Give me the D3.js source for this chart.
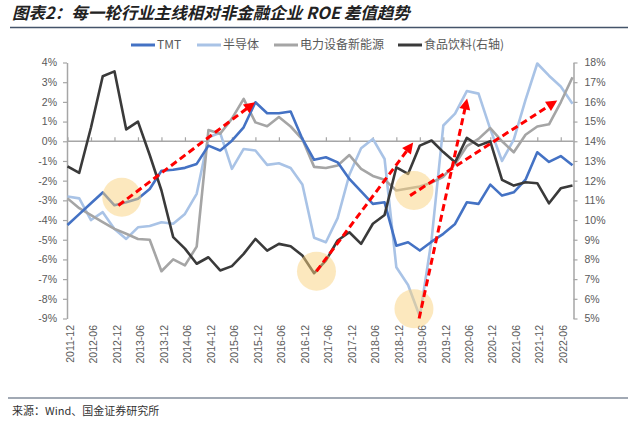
<!DOCTYPE html>
<html><head><meta charset="utf-8">
<script src="https://cdn.jsdelivr.net/npm/d3@7"></script>
<style>body{margin:0;background:#fff}svg{display:block}</style>
</head><body>
<svg id="c" width="640" height="423"></svg>
<script>
const dates=["2011-12","2012-03","2012-06","2012-09","2012-12","2013-03","2013-06","2013-09","2013-12","2014-03","2014-06","2014-09","2014-12","2015-03","2015-06","2015-09","2015-12","2016-03","2016-06","2016-09","2016-12","2017-03","2017-06","2017-09","2017-12","2018-03","2018-06","2018-09","2018-12","2019-03","2019-06","2019-09","2019-12","2020-03","2020-06","2020-09","2020-12","2021-03","2021-06","2021-09","2021-12","2022-03","2022-06","2022-09"];
const tmt=[-4.25,-3.7,-3.15,-2.6,-3.25,-3.1,-2.92,-2.42,-1.5,-1.45,-1.35,-1.15,-0.22,-0.47,0.03,0.71,1.98,1.42,1.42,1.51,0.12,-0.94,-0.81,-1.07,-1.91,-2.55,-3.18,-3.1,-5.3,-5.13,-5.55,-5.1,-4.7,-4.2,-3.1,-3.18,-2.2,-2.76,-2.59,-1.95,-0.56,-1.05,-0.75,-1.22];
const semi=[-2.8,-2.9,-4.0,-3.6,-4.45,-4.96,-4.37,-4.3,-4.11,-4.19,-3.69,-2.67,0.2,0.43,-1.4,-0.39,-0.47,-1.2,-1.12,-1.36,-2.2,-4.9,-5.13,-3.9,-1.7,-0.35,0.12,-0.9,-6.4,-7.3,-8.9,-5.0,0.8,1.4,2.55,2.42,0.62,-1.0,0.08,2.1,3.95,3.33,2.78,1.9];
const power=[-2.9,-3.4,-3.75,-4.1,-4.45,-4.7,-4.96,-5.0,-6.6,-6.0,-6.3,-5.35,0.57,0.38,1.15,2.15,0.96,0.76,1.23,0.75,0.1,-1.3,-1.36,-1.23,-0.7,-1.4,-1.76,-1.95,-2.5,-2.4,-2.3,-2.1,-1.8,-1.15,-0.25,0.12,0.67,0.0,-0.56,0.33,0.75,0.86,1.98,3.25];
const food=[12.73,12.4,14.7,17.3,17.55,14.6,15.0,13.3,11.5,9.13,8.55,7.78,8.11,7.44,7.66,8.28,9.04,8.45,8.79,8.67,8.2,7.3,7.94,8.96,9.38,8.79,9.81,10.26,12.68,12.34,13.78,14.04,13.45,12.93,14.17,13.78,14.0,12.04,11.75,11.92,11.87,10.85,11.61,11.75];
const leftTicks=[4,3,2,1,0,-1,-2,-3,-4,-5,-6,-7,-8,-9];
const rightTicks=[18,17,16,15,14,13,12,11,10,9,8,7,6,5];
const seriesNames=["TMT","半导体","电力设备新能源","食品饮料(右轴)"];
const titleText="图表2：每一轮行业主线相对非金融企业 ROE 差值趋势";
const sourceText="来源：Wind、国金证券研究所";
// annotations in (category index, left-axis value)
const circlePts=[[4.62,-2.84],[21.2,-6.6],[29.5,-8.5],[29.5,-2.5]];
const arrowPts=[[4.33,-3.26,15.97,1.98],[21.2,-6.6,29.43,-0.06],[29.94,-9.0,34.03,2.17],[29.17,-2.76,41.7,2.07]];

const colors=["#4472C4","#A9C3E6","#A5A5A5","#3A3A3A"];
const svg=d3.select("#c");
const x=d3.scalePoint().domain(dates).range([67.5,572.5]);
const yL=d3.scaleLinear().domain([-9,4]).range([318.5,62.5]);
const yR=d3.scaleLinear().domain([5,18]).range([318.5,62.5]);
const xi=i=>x(dates[0])+i*x.step();
const axisColor="#A6A6A6", labelColor="#595959";

// title
svg.append("text").attr("x",12).attr("y",19).text(titleText)
  .attr("font-family","'Noto Sans CJK SC'").attr("font-size",16.5).attr("font-weight","bold")
  .attr("font-style","italic").attr("fill","#222");
svg.append("line").attr("x1",10).attr("x2",628).attr("y1",27.5).attr("y2",27.5).attr("stroke","#44546A").attr("stroke-width",1.5);
svg.append("line").attr("x1",8).attr("x2",628).attr("y1",398).attr("y2",398).attr("stroke","#44546A").attr("stroke-width",1.2);
svg.append("text").attr("x",12).attr("y",415).text(sourceText)
  .attr("font-family","'Noto Sans CJK SC'").attr("font-size",11).attr("fill","#333");

// legend
const legX=[131,197,274,398];
seriesNames.forEach((n,k)=>{
  svg.append("line").attr("x1",legX[k]).attr("x2",legX[k]+24).attr("y1",45).attr("y2",45)
    .attr("stroke",colors[k]).attr("stroke-width",3);
  svg.append("text").attr("x",legX[k]+26).attr("y",45).attr("dy","0.36em").text(n)
    .attr("font-family","'Noto Sans CJK SC'").attr("font-size",12).attr("fill",labelColor);
});

function styleAxis(g){
  g.select(".domain").attr("stroke",axisColor).attr("stroke-width",1.5);
  g.selectAll(".tick line").attr("stroke",axisColor).attr("stroke-width",1.2);
  g.selectAll(".tick text").attr("fill",labelColor).attr("font-family","'Liberation Sans',Arial").attr("font-size",10.5);
}
const gl=svg.append("g").attr("transform","translate(67,0)")
  .call(d3.axisLeft(yL).tickValues(leftTicks).tickSize(4).tickSizeOuter(0).tickPadding(6).tickFormat(d=>d+"%"));
styleAxis(gl);
const gr=svg.append("g").attr("transform","translate(573.5,0)")
  .call(d3.axisRight(yR).tickValues(rightTicks).tickSize(4).tickSizeOuter(0).tickPadding(7).tickFormat(d=>d+"%"));
styleAxis(gr);
const evenDates=dates.filter((d,i)=>i%2===0);
const gx=svg.append("g").attr("transform",`translate(0,${yL(0)})`)
  .call(d3.axisTop(x).tickValues(evenDates).tickSize(4).tickSizeOuter(0).tickFormat(""));
gx.select(".domain").attr("stroke",axisColor).attr("stroke-width",1.5).attr("d",`M67,0H573.5`);
gx.selectAll(".tick line").attr("stroke",axisColor).attr("stroke-width",1.2);
svg.append("g").selectAll("text").data(evenDates).join("text")
  .attr("transform",d=>`translate(${x(d)+2.5},325) rotate(-90)`)
  .attr("text-anchor","end").attr("dy","0.35em").text(d=>d)
  .attr("fill",labelColor).attr("font-family","'Liberation Sans',Arial").attr("font-size",10.5);

// lines
const lineL=d3.line().x((d,i)=>x(dates[i])).y(d=>yL(d));
const lineR=d3.line().x((d,i)=>x(dates[i])).y(d=>yR(d));
[[tmt,lineL],[semi,lineL],[power,lineL],[food,lineR]].forEach(([s,ln],k)=>{
  svg.append("path").datum(s).attr("d",ln).attr("fill","none").attr("stroke",colors[k])
    .attr("stroke-width",2.6).attr("stroke-linejoin","round");
});
// order: put TMT above semi/power
svg.selectAll("path").filter(function(){return d3.select(this).attr("stroke")===colors[0];}).raise();
svg.selectAll("path").filter(function(){return d3.select(this).attr("stroke")===colors[3];}).raise();

// circles
svg.append("g").selectAll("circle").data(circlePts).join("circle")
  .attr("cx",d=>xi(d[0])).attr("cy",d=>yL(d[1])).attr("r",19.5)
  .attr("fill","#F9D27E").attr("fill-opacity",0.5);

// arrows
const ag=svg.append("g");
arrowPts.forEach(a=>{
  const x1=xi(a[0]),y1=yL(a[1]),x2=xi(a[2]),y2=yL(a[3]);
  const dx=x2-x1,dy=y2-y1,L=Math.hypot(dx,dy),ux=dx/L,uy=dy/L;
  const hl=11,hw=5.5;
  const bx=x2-ux*hl,by=y2-uy*hl;
  ag.append("line").attr("x1",x1).attr("y1",y1).attr("x2",bx+ux*1).attr("y2",by+uy*1)
    .attr("stroke","#FF0000").attr("stroke-width",3).attr("stroke-dasharray","7,4");
  ag.append("path").attr("d",`M${x2},${y2}L${bx-uy*hw},${by+ux*hw}L${bx+uy*hw},${by-ux*hw}Z`).attr("fill","#FF0000");
});
</script>
</body></html>
